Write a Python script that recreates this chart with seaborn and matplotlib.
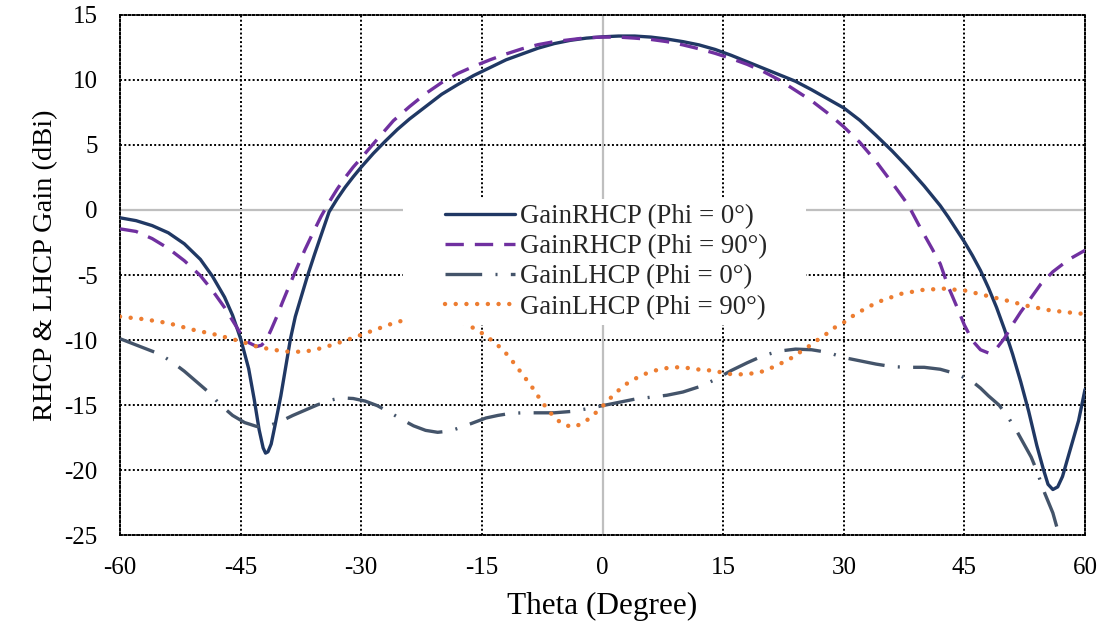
import numpy as np
import pandas as pd
import matplotlib
matplotlib.use("Agg")
import matplotlib.pyplot as plt
from matplotlib.patches import Rectangle
import seaborn as sns

# ---- gain cuts (dBi) versus theta (degree) ----
theta_rhcp0 = [-60, -58, -56, -54, -52, -50, -48.5, -47, -46, -45, -44, -43.3, -42.7,
               -42.2, -41.9, -41.6, -41.2, -40.7, -40, -39.4, -38.8, -38.2, -37.5,
               -36.7, -35.8, -35, -34, -33, -32, -31, -30, -28.5, -27, -25.5, -24,
               -22, -20, -18, -16, -14, -12, -10, -8, -6, -4, -2, 0, 2, 4, 6, 8, 10,
               12, 14, 16, 18, 20, 22, 24, 26, 28, 30, 32, 34, 36, 38, 40, 42, 43,
               44, 45, 46, 47, 48, 49, 50, 51, 52, 53, 54, 54.8, 55.4, 56, 56.6,
               57.2, 57.8, 58.5, 59.2, 60]
gain_rhcp0 = [-0.6, -0.82, -1.2, -1.75, -2.6, -3.8, -5.1, -6.7, -8.1, -9.9, -12.2, -14.6, -16.9,
              -18.3, -18.7, -18.6, -18.0, -16.5, -14.3, -12.1, -9.9, -8.2, -6.75,
              -5.1, -3.4, -1.95, -0.15, 0.85, 1.75, 2.55, 3.3, 4.35, 5.3, 6.2, 7.0,
              7.95, 8.9, 9.65, 10.35, 10.95, 11.55, 12.0, 12.45, 12.8, 13.05, 13.22, 13.32, 13.38, 13.38, 13.3, 13.15, 12.95,
              12.7, 12.35, 11.9, 11.4, 10.9, 10.4, 9.9, 9.25, 8.55, 7.85, 6.9, 5.75, 4.55, 3.25, 1.85, 0.33, -0.55,
              -1.5, -2.45, -3.5, -4.65, -6.0, -7.5, -9.2, -11.1, -13.2, -15.5, -18.1, -19.9, -21.1, -21.5, -21.3,
              -20.5, -19.2, -17.7, -16.2, -13.8]

theta_rhcp90 = [-60, -58, -56, -54, -52, -50, -48.5, -47, -46, -45, -44, -43, -42.4,
                -41.8, -41.2, -40.5, -39.8, -39, -38, -37, -36, -35, -34, -33, -32,
                -31, -30, -28, -26, -24, -22, -20, -18, -16, -14, -12, -10, -8, -6,
                -4, -2, 0, 2, 4, 6, 8, 10, 12, 14, 16, 18, 20, 22, 24, 26, 28, 30, 32,
                34, 36, 38, 39.5, 41, 42, 43, 44, 45, 46, 47, 48, 49, 50, 51, 52, 53,
                54.5, 56, 58, 60]
gain_rhcp90 = [-1.45, -1.65, -2.2, -2.95, -3.9, -5.05, -6.2, -7.5, -8.5, -9.5, -10.2, -10.5, -10.4,
               -10.0, -9.2, -8.2, -7.1, -5.9, -4.45, -3.05, -1.75, -0.5, 0.6, 1.6, 2.5,
               3.3, 4.0, 5.45, 6.87, 7.95, 8.95, 9.8, 10.5, 11.05, 11.55, 12.0, 12.4, 12.72, 12.95,
               13.1, 13.25, 13.3, 13.3, 13.22, 13.12, 12.95, 12.7, 12.4, 12.05, 11.65, 11.2, 10.65, 10.0, 9.2, 8.4, 7.45, 6.4, 5.2,
               3.75, 2.1, 0.4, -1.35, -3.0, -4.15, -5.9, -7.35, -8.85, -10.05, -10.75, -11.0, -10.65, -9.85, -8.8, -7.85, -7.0,
               -5.7, -4.75, -3.8, -3.1]

theta_lhcp0 = [-60, -57.5, -55, -53.5, -52, -50.5, -49, -47.5, -46, -44.5, -43, -41.5,
               -40, -38.5, -37, -35.5, -34, -32.5, -31, -29.5, -28, -26.5, -25, -23.5,
               -22, -20.5, -19, -17.5, -16, -14.5, -13, -11.5, -10, -8, -6, -4, -2, 0,
               2, 4, 6, 8, 10, 12, 14, 16, 18, 20, 22, 24, 26, 28, 30, 32, 34, 36, 38,
               40, 42, 44, 45, 46, 47, 48, 49.3, 50.4, 51.6, 53.3, 54, 55, 56, 56.5,
               57.5, 58.5, 60]
gain_lhcp0 = [-9.9, -10.5, -11.1, -11.7, -12.4, -13.2, -14.0, -15.0, -15.8, -16.35, -16.65, -16.6,
              -16.25, -15.8, -15.4, -15.0, -14.65, -14.45, -14.5, -14.7, -15.05, -15.55, -16.1, -16.6,
              -16.95, -17.1, -17.0, -16.7, -16.35, -16.0, -15.8, -15.65, -15.6, -15.6, -15.6, -15.5, -15.3, -15.05,
              -14.8, -14.55, -14.4, -14.25, -14.0, -13.6, -13.05, -12.35, -11.75, -11.2, -10.85, -10.7, -10.75, -10.95, -11.35, -11.6, -11.85, -12.05, -12.1,
              -12.1, -12.25, -12.6, -12.9, -13.2, -13.7, -14.3, -15.0, -15.9, -17.1, -19.0, -20.05, -21.8, -23.3, -24.4,
              -26.0, -27.5, -28.5]

theta_lhcp90 = [-60, -57, -54, -51, -48, -45, -43, -41, -39, -37.5, -36, -34, -32, -30,
                -28, -26, -24.5, -22, -20, -18, -17, -15.6, -13.6, -12.3, -11.5, -10.6,
                -9.9, -9, -8.3, -7.6, -6.75, -5.9, -4.9, -3.65, -2.4, -1.4, -0.3, 0.6,
                1.6, 2.65, 3.7, 4.9, 6.2, 7.5, 8.8, 10.1, 11.5, 12.8, 14.2, 15.4, 16.9,
                18.2, 19.5, 20.8, 22, 23.2, 24.4, 25.4, 26.6, 27.7, 28.7, 29.9, 31,
                32.2, 33.4, 34.6, 37.1, 39.8, 42.4, 45.1, 47.8, 50.3, 53, 55.5, 57.5, 60]
gain_lhcp90 = [-8.2, -8.4, -8.7, -9.2, -9.6, -10.1, -10.5, -10.75, -10.9, -10.9, -10.8, -10.45, -10.05, -9.6,
               -9.15, -8.7, -8.45, -8.2, -8.2, -8.45, -8.8, -9.2, -10.1, -10.8, -11.4, -12.1,
               -12.7, -13.4, -14.05, -14.7, -15.4, -16.0, -16.5, -16.7, -16.4, -15.9, -15.3, -14.7,
               -14.1, -13.5, -13.1, -12.7, -12.4, -12.2, -12.1, -12.1, -12.25, -12.3, -12.4, -12.6, -12.65,
               -12.6, -12.5, -12.2, -11.85, -11.5, -11.0, -10.6, -10.05, -9.6, -9.1, -8.7, -8.2,
               -7.75, -7.35, -7.0, -6.45, -6.15, -6.05, -6.2, -6.6, -6.97, -7.4, -7.7, -7.85, -8.0]

series_names = ["GainRHCP (Phi = 0°)", "GainRHCP (Phi = 90°)",
                "GainLHCP (Phi = 0°)", "GainLHCP (Phi = 90°)"]
x_ticks = [-60, -45, -30, -15, 0, 15, 30, 45, 60]
y_ticks = [-25, -20, -15, -10, -5, 0, 5, 10, 15]

frames = []
for name, th, g in zip(series_names,
                       [theta_rhcp0, theta_rhcp90, theta_lhcp0, theta_lhcp90],
                       [gain_rhcp0, gain_rhcp90, gain_lhcp0, gain_lhcp90]):
    frames.append(pd.DataFrame({"theta": th, "gain": g, "series": name}))
df = pd.concat(frames, ignore_index=True)

sns.set_theme(style="white")
plt.rcParams["font.family"] = ["Liberation Serif", "DejaVu Serif"]
plt.rcParams["axes.unicode_minus"] = False

ORANGE = "#ED7D31"
palette = {series_names[0]: "#203864", series_names[1]: "#7030A0",
           series_names[2]: "#44546A", series_names[3]: ORANGE}
dashes = {series_names[0]: "",
          series_names[1]: (5.5, 3.3),
          series_names[2]: (11, 4, 0.6, 4),
          series_names[3]: (0.01, 2.4)}

fig = plt.figure(figsize=(11.10, 6.27), dpi=100)
ax = fig.add_axes([0.1081, 0.1467, 0.8694, 0.8294])

# dotted grid and frame
for t in x_ticks[1:-1]:
    if t != 0:
        ax.axvline(t, color="black", lw=1.4, ls=(0, (1, 1.2)), zorder=1)
for t in y_ticks[1:-1]:
    if t != 0:
        ax.axhline(t, color="black", lw=1.4, ls=(0, (1, 1.2)), zorder=1)
for sp in ax.spines.values():
    sp.set_visible(True)
    sp.set_color("black")
    sp.set_linewidth(1.4)
    sp.set_linestyle((0, (1, 1.2)))
# zero lines
ax.axvline(0, color="#BFBFBF", lw=1.6, zorder=1.5)
ax.axhline(0, color="#BFBFBF", lw=1.6, zorder=1.5)

sns.lineplot(data=df, x="theta", y="gain", hue="series", style="series",
             hue_order=series_names, style_order=series_names,
             palette=palette, dashes=dashes, estimator=None, sort=False,
             linewidth=2.4, ax=ax, legend=True, zorder=3)

for ln in ax.get_lines():
    if ln.get_color() == ORANGE:
        ln.set_linewidth(3.2)
        ln.set_dash_capstyle("round")

ax.set_xlim(-60, 60)
ax.set_ylim(-25, 15)
ax.set_xticks(x_ticks)
ax.set_yticks(y_ticks)
ax.tick_params(axis="both", length=0, pad=16, labelsize=18, colors="black")
ax.set_xlabel("Theta (Degree)", fontsize=22.5, color="black", labelpad=9)
ax.set_ylabel("RHCP & LHCP Gain (dBi)", fontsize=20.5, color="black")
ax.yaxis.set_label_coords(-0.064, 0.519)

# legend panel
ax.add_patch(Rectangle((0.2933, 0.404), 0.4177, 0.242, transform=ax.transAxes,
                       facecolor="white", edgecolor="none", zorder=4))
handles, labels = ax.get_legend_handles_labels()
for h in handles:
    h.set_linewidth(2.4)
    if h.get_color() == ORANGE:
        h.set_linewidth(3.2)
        h.set_dash_capstyle("round")
leg = ax.legend(handles, labels, loc="center", bbox_to_anchor=(0.5036, 0.525),
                bbox_transform=ax.transAxes, frameon=False, fontsize=19.3,
                handlelength=2.6, handletextpad=0.2, labelspacing=0.19,
                borderpad=0.1)
leg.set_zorder(5)

fig.savefig("out.png", dpi=100)
